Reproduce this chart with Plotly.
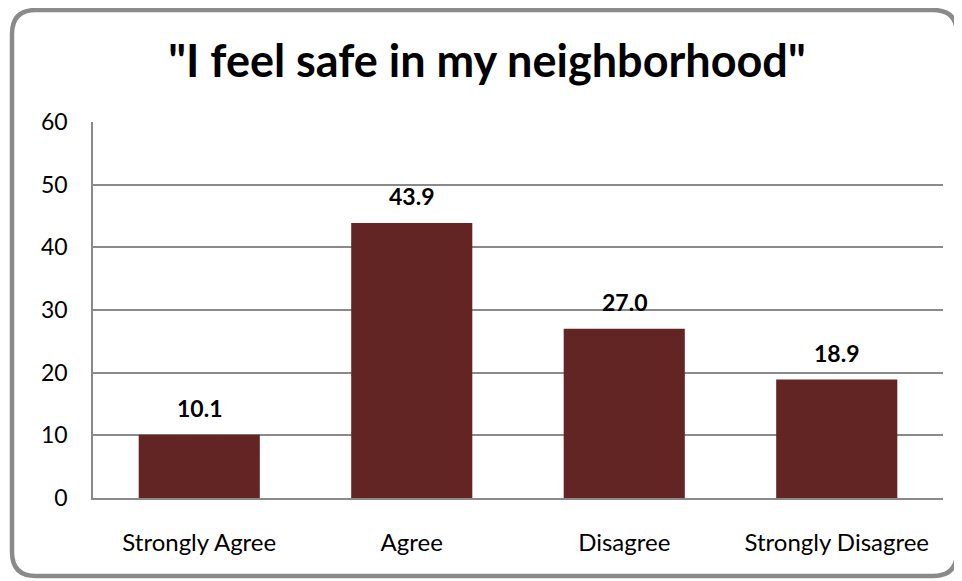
import plotly.graph_objects as go

categories = ["Strongly Agree", "Agree", "Disagree", "Strongly Disagree"]
percent = [10.1, 43.9, 27.0, 18.9]
y_ticks = [0, 10, 20, 30, 40, 50, 60]

# page body has an 8px margin, so the figure is a bit smaller than the window
OFF = 8
W, H = 962 - OFF, 581 - OFF
ML, MR, MT, MB = 93 - OFF, 19, 122 - OFF, 83
pw, ph = W - ML - MR, H - MT - MB


def px(x):
    return (x - OFF - ML) / pw


def py(y):
    return (H - MB - (y - OFF)) / ph


# rounded frame around the whole chart (screen pixels -> paper coords)
x0, x1, y0, y1, r = 12, 957, 10, 576, 24
path = (
    f"M {px(x0 + r)},{py(y0)} L {px(x1 - r)},{py(y0)} "
    f"Q {px(x1)},{py(y0)} {px(x1)},{py(y0 + r)} "
    f"L {px(x1)},{py(y1 - r)} Q {px(x1)},{py(y1)} {px(x1 - r)},{py(y1)} "
    f"L {px(x0 + r)},{py(y1)} Q {px(x0)},{py(y1)} {px(x0)},{py(y1 - r)} "
    f"L {px(x0)},{py(y0 + r)} Q {px(x0)},{py(y0)} {px(x0 + r)},{py(y0)} Z"
)

fig = go.Figure()
fig.add_trace(go.Bar(
    x=categories, y=percent,
    marker=dict(color="#632523", line=dict(width=0)),
    width=0.57,
    hoverinfo="x+y",
))

for c, v in zip(categories, percent):
    fig.add_annotation(x=c, y=v, text=f"<b>{v:.1f}</b>", showarrow=False,
                       yanchor="bottom", yshift=11,
                       font=dict(size=23, color="black"))

fig.add_shape(type="path", path=path, xref="paper", yref="paper",
              line=dict(color="#8a8a8a", width=4.5), layer="above")

fig.update_layout(
    width=W, height=H,
    margin=dict(l=ML, r=MR, t=MT, b=MB),
    paper_bgcolor="white", plot_bgcolor="white",
    font=dict(family="Lato, Open Sans, sans-serif", color="black", size=22),
    title=dict(text='<b>"I feel safe in my neighborhood"</b>',
               x=(487 - OFF) / W, xref="container", xanchor="center",
               y=1 - (61 - OFF) / H, yref="container", yanchor="middle",
               font=dict(size=45, color="black")),
    showlegend=False,
)
fig.update_xaxes(showgrid=False, ticks="", showline=True, linecolor="#8a8a8a",
                 linewidth=1.5, tickfont=dict(size=24), ticklabelstandoff=22)
fig.update_yaxes(range=[0, 60], tickvals=y_ticks, showgrid=True,
                 gridcolor="#8a8a8a", gridwidth=1.5, showline=True,
                 linecolor="#8a8a8a", linewidth=1.5, ticks="",
                 ticklabelstandoff=19, tickfont=dict(size=23), zeroline=False)

fig.write_html("out.html")
